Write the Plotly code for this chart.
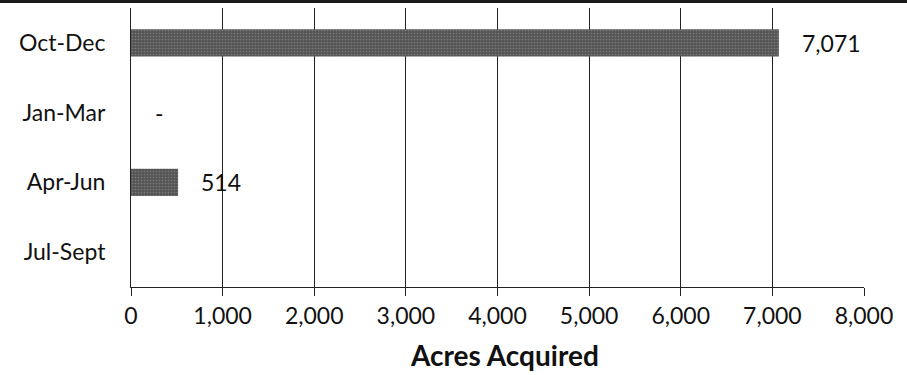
import plotly.graph_objects as go

categories = ["Oct-Dec", "Jan-Mar", "Apr-Jun", "Jul-Sept"]
acres = [7071, 0, 514, None]
x_ticks = [0, 1000, 2000, 3000, 4000, 5000, 6000, 7000, 8000]
x_title = "Acres Acquired"

FONT = "Lato"
TICK_SIZE = 23

fig = go.Figure()
fig.add_trace(go.Bar(
    y=categories,
    x=acres,
    orientation="h",
    width=0.39,
    marker=dict(
        color="#5e5e5e",
        line=dict(width=0),
        pattern=dict(shape=".", fgcolor="#a0a0a0", bgcolor="#555555", size=3, solidity=0.25),
    ),
    hoverinfo="skip",
    showlegend=False,
))

for cat, v in zip(categories, acres):
    if v is None:
        continue
    label = f"{v:,}" if v else "-"
    fig.add_annotation(
        x=v, y=cat, xref="x", yref="y",
        text=label, showarrow=False,
        xanchor="left", yanchor="middle",
        xshift=21 if v else 22,
        font=dict(family=FONT, size=TICK_SIZE, color="#111111"),
    )

# axis title placed as annotation for exact position
fig.add_annotation(
    x=0.51, y=-0.245, xref="paper", yref="paper",
    text=f"<b>{x_title}</b>", showarrow=False,
    xanchor="center", yanchor="middle",
    font=dict(family=FONT, size=28, color="#111111"),
)

# scanned page border at top
fig.add_shape(type="line", xref="paper", yref="paper",
              x0=-0.2, x1=1.1, y0=1.023, y1=1.023,
              line=dict(color="#1a1a1a", width=3))

fig.update_layout(
    width=907, height=375,
    margin=dict(l=131, r=43, t=8, b=88),
    paper_bgcolor="white",
    plot_bgcolor="white",
    font=dict(family=FONT, size=TICK_SIZE, color="#111111"),
    xaxis=dict(
        range=[0, 8000],
        tickvals=x_ticks,
        ticktext=[f"{t:,}" for t in x_ticks],
        showgrid=True, gridcolor="#222222", gridwidth=1,
        showline=True, linecolor="#222222", linewidth=1,
        ticks="outside", ticklen=8, tickcolor="#222222",
        zeroline=False,
        fixedrange=True,
    ),
    yaxis=dict(
        categoryorder="array",
        categoryarray=categories[::-1],
        showgrid=False,
        showline=True, linecolor="#222222", linewidth=1,
        ticks="", ticklabelstandoff=20,
        zeroline=False,
        fixedrange=True,
    ),
)

fig.write_html("out.html", config={"displayModeBar": False},
               post_script="document.body.style.margin='0';")
